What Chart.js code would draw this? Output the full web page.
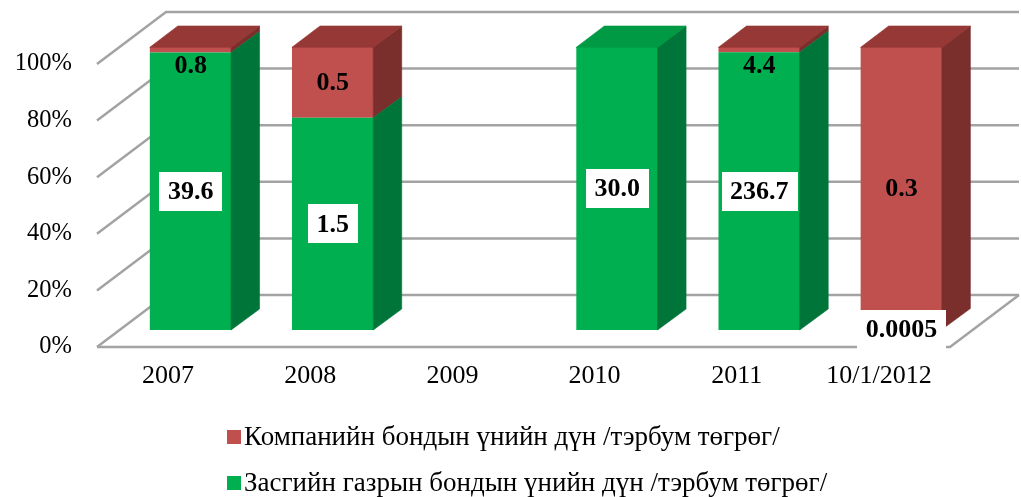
<!DOCTYPE html>
<html><head><meta charset="utf-8">
<script src="https://cdn.jsdelivr.net/npm/chart.js@4.4.1/dist/chart.umd.min.js"></script>
<style>html,body{margin:0;padding:0;background:#fff;overflow:hidden}#wrap{width:1021px;height:497px}</style>
</head><body><div id="wrap"><canvas id="c" width="1021" height="497"></canvas></div>
<script>
// ---- data ----
const categories = ['2007', '2008', '2009', '2010', '2011', '10/1/2012'];
const governmentBonds = [39.6, 1.5, null, 30.0, 236.7, 0.0005];
const companyBonds = [0.8, 0.5, null, null, 4.4, 0.3];
const governmentName = 'Засгийн газрын бондын үнийн дүн /тэрбум төгрөг/';
const companyName = 'Компанийн бондын үнийн дүн /тэрбум төгрөг/';
const yTickValues = [0, 20, 40, 60, 80, 100];

// 100% stacked table built from the arrays
const totals = categories.map((_, i) => (governmentBonds[i] || 0) + (companyBonds[i] || 0));
const share = arr => arr.map((v, i) => (v == null || !totals[i]) ? null : v / totals[i] * 100);

const FONT = "'Liberation Serif', 'Times New Roman', serif";
const GRID = '#a3a3a3';
const WALL = {x: 69, y: -52};     // depth of the floor / back wall
const OFF = {x: 22.6, y: -17};    // bar front plane offset
const DEPTH = {x: 28, y: -21};    // bar depth

function fmt(v) { return (Math.abs(v * 10 - Math.round(v * 10)) < 1e-9) ? v.toFixed(1) : String(v); }

function poly(ctx, pts, color) {
  ctx.beginPath();
  ctx.moveTo(pts[0][0], pts[0][1]);
  for (let k = 1; k < pts.length; k++) ctx.lineTo(pts[k][0], pts[k][1]);
  ctx.closePath();
  ctx.fillStyle = color; ctx.fill();
  ctx.strokeStyle = color; ctx.lineWidth = 0.6; ctx.stroke();
}

const threeD = {
  id: 'threeD',
  beforeDatasetsDraw(chart) {
    const ctx = chart.ctx, a = chart.chartArea, ys = chart.scales.y;
    ctx.save();
    ctx.strokeStyle = GRID; ctx.lineWidth = 2.5; ctx.lineCap = 'butt';
    yTickValues.forEach(v => {
      const y = ys.getPixelForValue(v);
      ctx.beginPath();
      ctx.moveTo(a.left, y);
      ctx.lineTo(a.left + WALL.x, y + WALL.y);
      ctx.lineTo(a.right + WALL.x, y + WALL.y);
      ctx.stroke();
    });
    const y0 = ys.getPixelForValue(0);
    ctx.beginPath();
    ctx.moveTo(a.left, y0); ctx.lineTo(a.right, y0); ctx.lineTo(a.right + WALL.x, y0 + WALL.y);
    ctx.stroke();
    ctx.restore();
  },
  beforeDatasetDraw(chart) { chart.ctx.save(); chart.ctx.translate(OFF.x, OFF.y); },
  afterDatasetDraw(chart, args) {
    const ctx = chart.ctx, ds = chart.data.datasets[args.index];
    args.meta.data.forEach((el, j) => {
      const v = ds.data[j];
      if (v == null) return;
      const p = el.getProps(['x', 'y', 'base', 'width'], true);
      const l = p.x - p.width / 2, r = p.x + p.width / 2;
      const top = Math.min(p.y, p.base), bot = Math.max(p.y, p.base);
      if (bot - top > 1) {
        poly(ctx, [[r - 0.5, top], [r + DEPTH.x, top + DEPTH.y], [r + DEPTH.x, bot + DEPTH.y], [r - 0.5, bot]], ds.sideColor);
      }
      let topmost = true;
      for (let k = args.index + 1; k < chart.data.datasets.length; k++) {
        if (chart.data.datasets[k].data[j]) topmost = false;
      }
      if (topmost && v > 0) {
        poly(ctx, [[l, top + 0.3], [l + DEPTH.x, top + DEPTH.y], [r + DEPTH.x, top + DEPTH.y], [r, top + 0.3]], ds.topColor);
      }
    });
    ctx.restore();
  },
  afterDatasetsDraw(chart) {
    const ctx = chart.ctx;
    ctx.save();
    ctx.font = 'bold 26px ' + FONT;
    ctx.textAlign = 'center'; ctx.textBaseline = 'middle';
    chart.data.datasets.forEach((ds, i) => {
      const meta = chart.getDatasetMeta(i);
      meta.data.forEach((el, j) => {
        const raw = ds.raw[j];
        if (raw == null) return;
        const p = el.getProps(['x', 'y', 'base'], true);
        const top = Math.min(p.y, p.base), bot = Math.max(p.y, p.base);
        const cx = p.x + OFF.x;
        let cy = (top + bot) / 2 + OFF.y;
        if (!ds.boxed) cy = Math.max(cy, top + OFF.y + 18);
        const txt = fmt(raw);
        if (ds.boxed) {
          const w = ctx.measureText(txt).width + 17, h = 39;
          ctx.fillStyle = '#ffffff';
          ctx.fillRect(Math.round(cx - w / 2), Math.round(cy - h / 2), Math.round(w), h);
        }
        ctx.fillStyle = '#000000';
        ctx.fillText(txt, cx, cy + 1);
      });
    });
    ctx.restore();
  },
  afterDraw(chart) {
    // legend, listed in reverse dataset order as in the reference
    const ctx = chart.ctx;
    ctx.save();
    ctx.font = '27px ' + FONT;
    ctx.textAlign = 'left'; ctx.textBaseline = 'middle';
    const items = chart.data.datasets.slice().reverse();
    items.forEach((ds, k) => {
      const y = 437 + k * 46;
      ctx.fillStyle = ds.backgroundColor;
      ctx.fillRect(227, y - 7, 14, 14);
      ctx.fillStyle = '#000';
      ctx.fillText(ds.label, 244, y + 1);
    });
    ctx.restore();
  }
};

new Chart(document.getElementById('c'), {
  type: 'bar',
  data: {
    labels: categories,
    datasets: [
      {label: governmentName, raw: governmentBonds, data: share(governmentBonds), backgroundColor: '#00b050',
       sideColor: '#00753a', topColor: '#009944', boxed: true, clip: false,
       categoryPercentage: 1, barPercentage: 0.575, borderWidth: 0},
      {label: companyName, raw: companyBonds, data: share(companyBonds), backgroundColor: '#c0504d',
       sideColor: '#7a2f2d', topColor: '#953836', boxed: false, clip: false,
       categoryPercentage: 1, barPercentage: 0.575, borderWidth: 0}
    ]
  },
  options: {
    responsive: false, animation: false, devicePixelRatio: 1,
    layout: {padding: {top: 64, right: 71, left: 0, bottom: 0}},
    plugins: {legend: {display: false}, tooltip: {enabled: false}},
    scales: {
      x: {stacked: true, grid: {display: false, drawTicks: false}, border: {display: false},
          ticks: {font: {family: FONT, size: 26}, color: '#000', padding: 14, maxRotation: 0, autoSkip: false},
          afterFit(s) { s.height = 150; }},
      y: {stacked: true, min: 0, max: 100, grid: {display: false, drawTicks: false}, border: {display: false},
          afterBuildTicks(s) { s.ticks = yTickValues.map(v => ({value: v})); },
          ticks: {font: {family: FONT, size: 24.5}, color: '#000', padding: 25, callback: v => v + '%'},
          afterFit(s) { s.width = 97; }}
    }
  },
  plugins: [threeD]
});
</script></body></html>
